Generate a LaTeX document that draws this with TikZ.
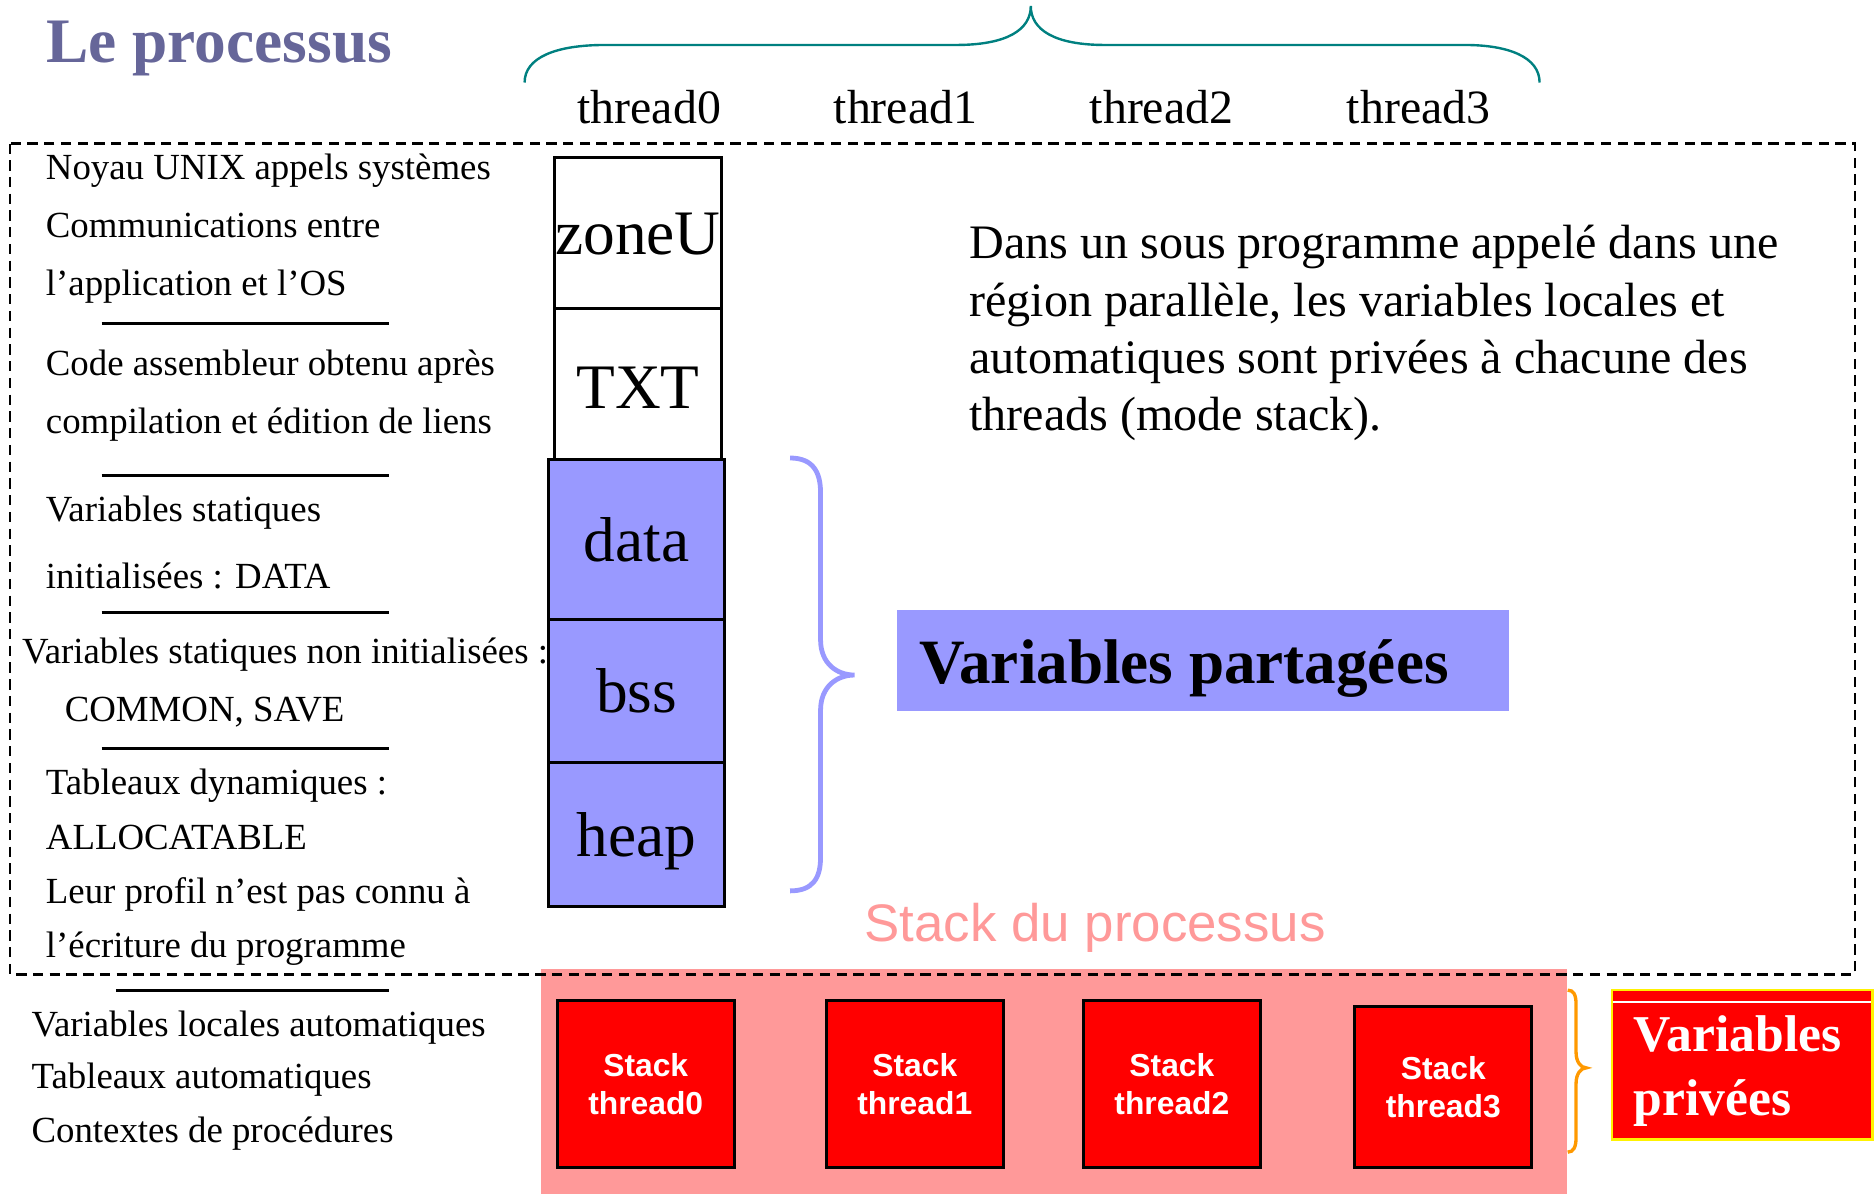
\documentclass[tikz,border=0pt]{standalone}
\usepackage{fontspec}
\setmainfont{Liberation Serif}
\newfontfamily\arialfont{Liberation Sans}
\definecolor{titleblue}{RGB}{102,102,153}
\definecolor{memblue}{RGB}{153,153,255}
\definecolor{stackpink}{RGB}{255,153,153}
\definecolor{braceteal}{RGB}{0,128,128}
\definecolor{braceorange}{RGB}{255,153,0}
\tikzset{
  lefttxt/.style={anchor=base west, inner sep=0pt, font=\fontsize{15.4pt}{18pt}\selectfont},
  threadtxt/.style={anchor=base west, inner sep=0pt, font=\fontsize{20pt}{24pt}\selectfont},
  paratxt/.style={anchor=base west, inner sep=0pt, font=\fontsize{20.1pt}{24pt}\selectfont},
  membox/.style={draw=black, line width=1.2pt, inner sep=0pt},
  memtxt/.style={anchor=base, inner sep=0pt, font=\fontsize{26.5pt}{30pt}\selectfont},
  seprule/.style={line width=1.3pt},
  stackbox/.style={draw=black, line width=1.2pt, fill=red, text=white, align=center,
    inner sep=0pt, minimum width=74pt,
    font=\fontsize{13.3pt}{16pt}\selectfont\arialfont\bfseries},
  privtxt/.style={anchor=base west, inner sep=0pt, text=white,
    font=\fontsize{21.6pt}{24pt}\selectfont\bfseries},
}
\begin{document}
\begin{tikzpicture}[x=0.5pt,y=-0.5pt]
\useasboundingbox (0,0) rectangle (1568,998);

% title
\node[anchor=base west, inner sep=0pt, text=titleblue,
      font=\fontsize{26.5pt}{30pt}\selectfont\bfseries] (title) at (38.4,52.4) {Le processus};

% brace over the thread names
\draw[braceteal, line width=1pt]
  (438.7,69) .. controls (438.7,48) and (465,37.6) .. (506,37.6) -- (799.5,37.6)
  .. controls (842,37.6) and (862,25) .. (862,5)
  .. controls (862,25) and (882,37.6) .. (924,37.6) -- (1225,37.6)
  .. controls (1262,37.6) and (1287.5,48) .. (1287.5,69);

\node[threadtxt] (th0) at (482.6,103) {thread0};
\node[threadtxt] (th1) at (696.8,103) {thread1};
\node[threadtxt] (th2) at (911,103) {thread2};
\node[threadtxt] (th3) at (1126,103) {thread3};

% stack area of the process
\node[fill=stackpink, inner sep=0pt, minimum width=429pt, minimum height=94.5pt] (stackzone) at (881,904.5) {};

% process address space
\draw[line width=1pt, dash pattern=on 4.3pt off 2.7pt] (8.6,120) rectangle (1551,815);

% left-hand descriptions
\node[lefttxt] (l1) at (38,150.5) {Noyau UNIX appels systèmes};
\node[lefttxt] (l2) at (38,198.5) {Communications entre};
\node[lefttxt] (l3) at (38,246.7) {l’application et l’OS};
\draw[seprule] (85,270.5) -- (325,270.5);
\node[lefttxt] (l4) at (38,313.6) {Code assembleur obtenu après};
\node[lefttxt] (l5) at (38,362.4) {compilation et édition de liens};
\draw[seprule] (85,398) -- (325,398);
\node[lefttxt] (l6) at (38,436.3) {Variables statiques};
\node[lefttxt] (l7) at (38,491.9) {initialisées : DATA};
\draw[seprule] (85,512) -- (325,512);
\node[lefttxt] (l8) at (18.2,554.6) {Variables statiques non initialisées :};
\node[lefttxt] (l9) at (53.8,603.5) {COMMON, SAVE};
\draw[seprule] (85,626) -- (325,626);
\node[lefttxt] (l10) at (38,664.8) {Tableaux dynamiques :};
\node[lefttxt] (l11) at (38,710) {ALLOCATABLE};
\node[lefttxt] (l12) at (38,755.3) {Leur profil n’est pas connu à};
\node[lefttxt] (l13) at (38,801) {l’écriture du programme};
\draw[seprule] (97,828.5) -- (325,828.5);
\node[lefttxt] (l14) at (26,866.4) {Variables locales automatiques};
\node[lefttxt] (l15) at (26,910) {Tableaux automatiques};
\node[lefttxt] (l16) at (26,955.6) {Contextes de procédures};

% memory segments
\node[membox, fill=white, minimum width=69.5pt, minimum height=63pt] (zoneU) at (533.5,195) {};
\node[membox, fill=white, minimum width=69.5pt, minimum height=63pt] (txt) at (533.5,321) {};
\node[membox, fill=memblue, minimum width=73.5pt, minimum height=67pt] (data) at (532.5,451) {};
\node[membox, fill=memblue, minimum width=73.5pt, minimum height=60pt] (bss) at (532.5,578) {};
\node[membox, fill=memblue, minimum width=73.5pt, minimum height=60pt] (heap) at (532.5,698) {};
\node[memtxt] (zoneUlbl) at (533.5,213) {zoneU};
\node[memtxt] (txtlbl) at (533.5,341.5) {TXT};
\node[memtxt] (datalbl) at (532.5,469.7) {data};
\node[memtxt] (bsslbl) at (532.5,596) {bss};
\node[memtxt] (heaplbl) at (532.5,716.4) {heap};

% brace grouping the shared segments
\draw[memblue, line width=2pt]
  (660.7,383) .. controls (680,383) and (686.2,395) .. (686.2,412) -- (686.2,535)
  .. controls (686.2,555) and (700,564.5) .. (714.6,564.5)
  .. controls (700,564.5) and (686.2,574) .. (686.2,594) -- (686.2,717)
  .. controls (686.2,734) and (680,745) .. (660.7,745);

\node[fill=memblue, inner sep=0pt, minimum width=256pt, minimum height=42.15pt] (partbox) at (1006,552.15) {};
\node[anchor=base west, inner sep=0pt, font=\fontsize{26.4pt}{30pt}\selectfont\bfseries] (partlbl) at (768.6,571.3) {Variables partagées};

% explanation
\node[paratxt] (p1) at (810.3,216) {Dans un sous programme appelé dans une};
\node[paratxt] (p2) at (810.3,264.4) {région parallèle, les variables locales et};
\node[paratxt] (p3) at (810.3,312.4) {automatiques sont privées à chacune des};
\node[paratxt] (p4) at (810.3,360.3) {threads (mode stack).};

% per-thread stacks
\node[anchor=base west, inner sep=0pt, text=stackpink, font=\fontsize{22.1pt}{26pt}\selectfont\arialfont] (stacklbl) at (722.5,787.5) {Stack du processus};
\node[stackbox, minimum height=69.5pt] (st0) at (540,906.5) {Stack\\thread0};
\node[stackbox, minimum height=69.5pt] (st1) at (765,906.5) {Stack\\thread1};
\node[stackbox, minimum height=69.5pt] (st2) at (980,906.5) {Stack\\thread2};
\node[stackbox, minimum height=67pt] (st3) at (1207,909) {Stack\\thread3};

% brace grouping the private stacks
\draw[braceorange, line width=1.4pt]
  (1311,828) .. controls (1316,828) and (1318,832) .. (1318,840) -- (1318,880)
  .. controls (1318,888) and (1322,893) .. (1326.5,893)
  .. controls (1322,893) and (1318,898) .. (1318,906) -- (1318,951)
  .. controls (1318,959) and (1316,963.5) .. (1311,963.5);

\node[draw=yellow, line width=1pt, fill=red, inner sep=0pt, minimum width=109pt, minimum height=62.5pt] (privbox) at (1457,890.5) {};
\draw[white, line width=0.6pt] ([shift={(1pt,-5.5pt)}]privbox.north west) -- ([shift={(-1pt,-5.5pt)}]privbox.north east);
\node[privtxt] (priv1) at (1366,879.5) {Variables};
\node[privtxt] (priv2) at (1366,932.5) {privées};
\end{tikzpicture}
\end{document}
